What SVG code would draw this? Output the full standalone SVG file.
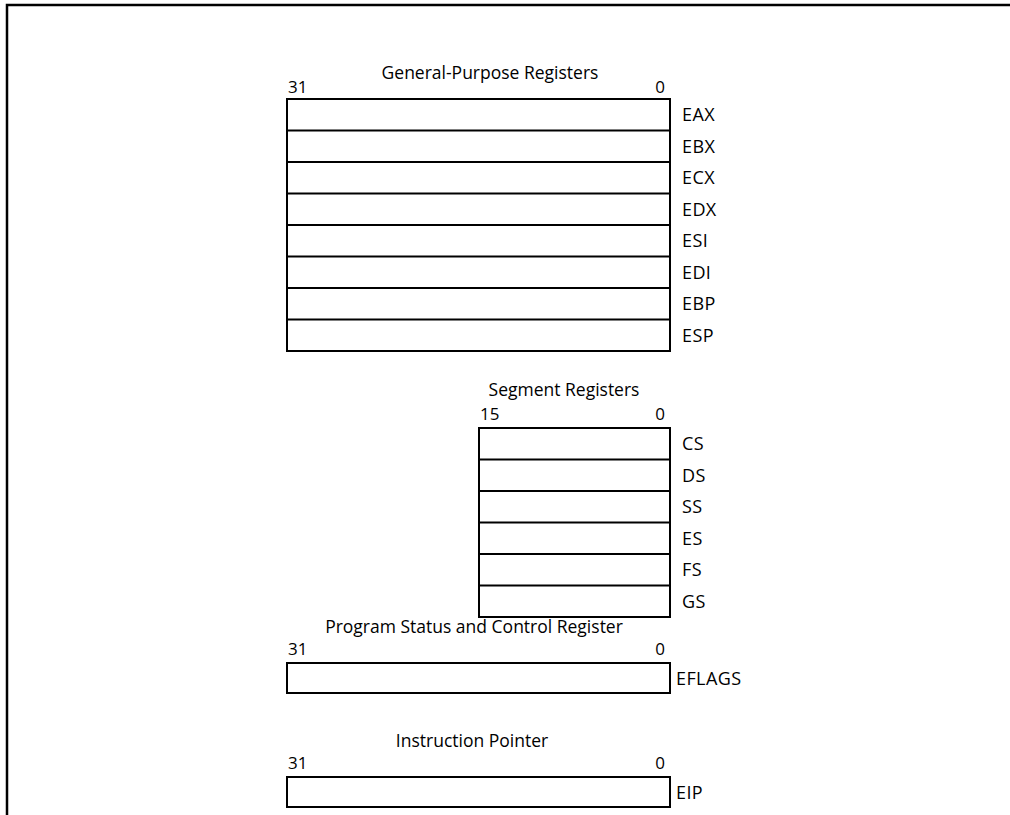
<svg xmlns="http://www.w3.org/2000/svg" width="1010" height="815" viewBox="0 0 1010 815">
<style>
text{font-family:"Open Sans","Liberation Sans",sans-serif;font-size:17px;fill:#000}
.t{text-anchor:middle;font-size:17.5px}
.r{text-anchor:end}
.lb{font-size:18px;letter-spacing:0.4px}
.box{fill:none;stroke:#000;stroke-width:2}
.ln{stroke:#000;stroke-width:2}
</style>
<rect width="1010" height="815" fill="#fff"/>
<g id="frame">
<path d="M7,815 V5 H1010" fill="none" stroke="#000" stroke-width="2.5"/>
</g>
<g id="gpr">
<text class="t" x="490" y="79">General-Purpose Registers</text>
<text x="288" y="93">31</text>
<text class="r" x="665" y="93">0</text>
<rect class="box" x="287" y="99" width="383" height="252"/>
<line class="ln" x1="287" y1="130.5" x2="670" y2="130.5"/>
<line class="ln" x1="287" y1="162" x2="670" y2="162"/>
<line class="ln" x1="287" y1="193.5" x2="670" y2="193.5"/>
<line class="ln" x1="287" y1="225" x2="670" y2="225"/>
<line class="ln" x1="287" y1="256.5" x2="670" y2="256.5"/>
<line class="ln" x1="287" y1="288" x2="670" y2="288"/>
<line class="ln" x1="287" y1="319.5" x2="670" y2="319.5"/>
<text class="lb" x="682" y="121">EAX</text>
<text class="lb" x="682" y="153">EBX</text>
<text class="lb" x="682" y="184">ECX</text>
<text class="lb" x="682" y="216">EDX</text>
<text class="lb" x="682" y="247">ESI</text>
<text class="lb" x="682" y="279">EDI</text>
<text class="lb" x="682" y="310">EBP</text>
<text class="lb" x="682" y="342">ESP</text>
</g>
<g id="seg">
<text class="t" x="564" y="396">Segment Registers</text>
<text x="480" y="420">15</text>
<text class="r" x="665" y="420">0</text>
<rect class="box" x="479" y="428" width="191" height="189"/>
<line class="ln" x1="479" y1="459.5" x2="670" y2="459.5"/>
<line class="ln" x1="479" y1="491" x2="670" y2="491"/>
<line class="ln" x1="479" y1="522.5" x2="670" y2="522.5"/>
<line class="ln" x1="479" y1="554" x2="670" y2="554"/>
<line class="ln" x1="479" y1="585.5" x2="670" y2="585.5"/>
<text class="lb" x="682" y="450">CS</text>
<text class="lb" x="682" y="482">DS</text>
<text class="lb" x="682" y="513">SS</text>
<text class="lb" x="682" y="545">ES</text>
<text class="lb" x="682" y="576">FS</text>
<text class="lb" x="682" y="608">GS</text>
</g>
<g id="eflags">
<text class="t" x="474" y="633">Program Status and Control Register</text>
<text x="288" y="655">31</text>
<text class="r" x="665" y="655">0</text>
<rect class="box" x="287" y="663" width="383" height="30"/>
<text class="lb" x="676" y="685">EFLAGS</text>
</g>
<g id="eip">
<text class="t" x="472" y="747">Instruction Pointer</text>
<text x="288" y="769">31</text>
<text class="r" x="665" y="769">0</text>
<rect class="box" x="287" y="777" width="383" height="30"/>
<text class="lb" x="676" y="799">EIP</text>
</g>
</svg>
